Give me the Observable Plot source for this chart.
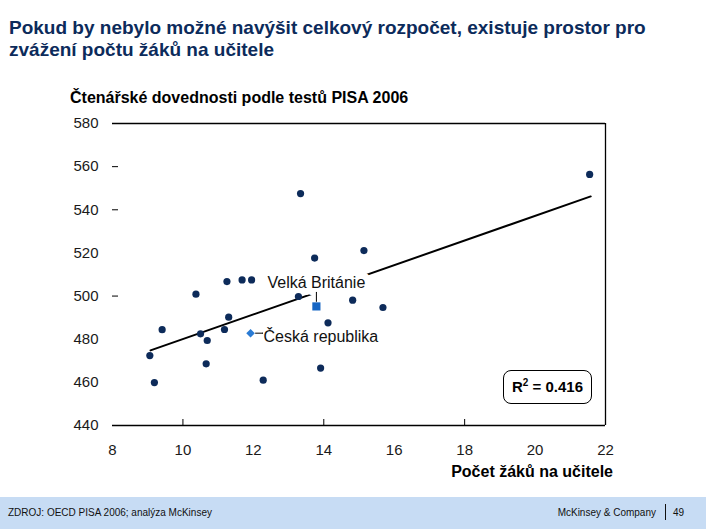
<!DOCTYPE html>
<html>
<head>
<meta charset="utf-8">
<script src="https://cdn.jsdelivr.net/npm/d3@7"></script>
<script src="https://cdn.jsdelivr.net/npm/@observablehq/plot@0.6"></script>
<style>
  html, body { margin: 0; padding: 0; background: #fff; }
  #wrap { position: relative; width: 706px; height: 529px; overflow: hidden; font-family: "Liberation Sans", Arial, sans-serif; }
  #title { position: absolute; left: 9px; top: 17px; font-size: 19px; font-weight: bold; color: #0c2b5b; line-height: 22px; }
  #subtitle { position: absolute; left: 70px; top: 89px; font-size: 16px; font-weight: bold; color: #000; }
  #chart { position: absolute; left: 0; top: 110px; }
  #xtitle { position: absolute; right: 93px; top: 463px; font-size: 16px; font-weight: bold; color: #000; }
  #r2 { position: absolute; left: 503px; top: 370px; width: 87px; height: 32px; border: 1px solid #000; border-radius: 8px; font-size: 15px; font-weight: bold; text-align: center; line-height: 32px; background: #fff; }
  #r2 sup { font-size: 10px; line-height: 0; }
  #footer { position: absolute; left: 0; top: 497px; width: 706px; height: 32px; background: #c7dcf4; font-size: 10px; color: #111; }
  #source { position: absolute; left: 8px; top: 10px; }
  #brand { position: absolute; right: 50px; top: 10px; }
  #sep { position: absolute; left: 665px; top: 7px; width: 1px; height: 16px; background: #111; }
  #page { position: absolute; left: 673px; top: 10px; }
</style>
</head>
<body>
<div id="wrap">
  <div id="title">Pokud by nebylo možné navýšit celkový rozpočet, existuje prostor pro<br>zvážení počtu žáků na učitele</div>
  <div id="subtitle">Čtenářské dovednosti podle testů PISA 2006</div>
  <div id="chart"></div>
  <div id="xtitle">Počet žáků na učitele</div>
  <div id="r2">R<sup>2</sup> = 0.416</div>
  <div id="footer">
    <div id="source">ZDROJ: OECD PISA 2006; analýza McKinsey</div>
    <div id="brand">McKinsey &amp; Company</div>
    <div id="sep"></div>
    <div id="page">49</div>
  </div>
</div>
<script>
// Countries: students per teacher (x) vs PISA 2006 reading score (y)
const studentsPerTeacher = [21.55, 13.34, 13.74, 15.14, 10.37, 11.25, 11.68, 11.95, 13.28, 14.82, 15.68, 9.41, 10.50, 10.69, 11.30, 11.18, 9.06, 9.19, 10.66, 12.28, 13.91, 14.12];
const readingScore      = [556.4, 547.5, 517.6, 521.1, 500.9, 506.7, 507.5, 507.5, 499.8, 498.1, 494.7, 484.4, 482.5, 479.4, 490.2, 484.5, 472.4, 459.9, 468.6, 461.0, 466.6, 487.6];

// Highlighted countries
const highlightNames = ["Velká Británie", "Česká republika"];
const highlightX = [13.79, 11.92];
const highlightY = [495.2, 482.8];

// Trend line end points
const trendX = [9.08, 21.58];
const trendY = [474.8, 546.2];

// Axis ticks
const xTicks = [8, 10, 12, 14, 16, 18, 20, 22];
const yTicks = [440, 460, 480, 500, 520, 540, 560, 580];
const xMinorTicks = [10, 14, 18];
const yMinorTicks = [500, 540, 560];

const points = studentsPerTeacher.map((x, i) => ({x, y: readingScore[i]}));
const highlights = highlightNames.map((name, i) => ({name, x: highlightX[i], y: highlightY[i]}));
const uk = [highlights[0]];
const cz = [highlights[1]];
const trend = trendX.map((x, i) => ({x, y: trendY[i]}));

const font = "'Liberation Sans', Arial, sans-serif";

const chart = Plot.plot({
  width: 706,
  height: 380,
  marginTop: 13,
  marginBottom: 65,
  marginLeft: 112,
  marginRight: 101,
  style: {background: "transparent", fontFamily: font, fontSize: "15px", color: "#1a1a1a", overflow: "visible"},
  x: {domain: [8, 22], label: null},
  y: {domain: [440, 580], label: null},
  marks: [
    Plot.ruleY([580, 440], {stroke: "#000", strokeWidth: 1.3}),
    Plot.ruleX([22], {stroke: "#000", strokeWidth: 1.3}),
    Plot.axisY({ticks: yTicks, tickSize: 0, tickPadding: 14, fontSize: 15, label: null}),
    Plot.axisY({ticks: yMinorTicks, tickSize: 6, dx: 6, text: null, label: null, stroke: "#000"}),
    Plot.axisX({ticks: xTicks, tickSize: 0, tickPadding: 19, fontSize: 15, label: null}),
    Plot.axisX({ticks: xMinorTicks, tickSize: 6, dy: -6, text: null, label: null, stroke: "#000"}),
    Plot.line(trend, {x: "x", y: "y", stroke: "#000", strokeWidth: 2}),
    Plot.text(uk, {x: "x", y: "y", text: "name", dy: -24, textAnchor: "middle", fontSize: 16, fill: "#fff", stroke: "#fff", strokeWidth: 14, strokeLinejoin: "round"}),
    Plot.text(uk, {x: "x", y: "y", text: "name", dy: -24, textAnchor: "middle", fontSize: 16, fill: "#111"}),
    Plot.vector(uk, {x: "x", y: "y", length: 9, rotate: 0, anchor: "start", dy: -5, r: 0, stroke: "#000", strokeWidth: 1}),
    Plot.vector(cz, {x: "x", y: "y", length: 7, rotate: 90, anchor: "start", dx: 5, r: 0, stroke: "#000", strokeWidth: 1}),
    Plot.text(cz, {x: "x", y: "y", text: "name", dx: 13, dy: 4, textAnchor: "start", fontSize: 16, fill: "#111"}),
    Plot.dot(points, {x: "x", y: "y", r: 3.6, fill: "#0d2b5a", stroke: null}),
    Plot.dot(uk, {x: "x", y: "y", symbol: "square", r: 4.6, fill: "#1666c4", stroke: null}),
    Plot.dot(cz, {x: "x", y: "y", symbol: "square", rotate: 45, r: 3.4, fill: "#2a7bd4", stroke: null})
  ]
});
document.getElementById("chart").appendChild(chart);
</script>
</body>
</html>
